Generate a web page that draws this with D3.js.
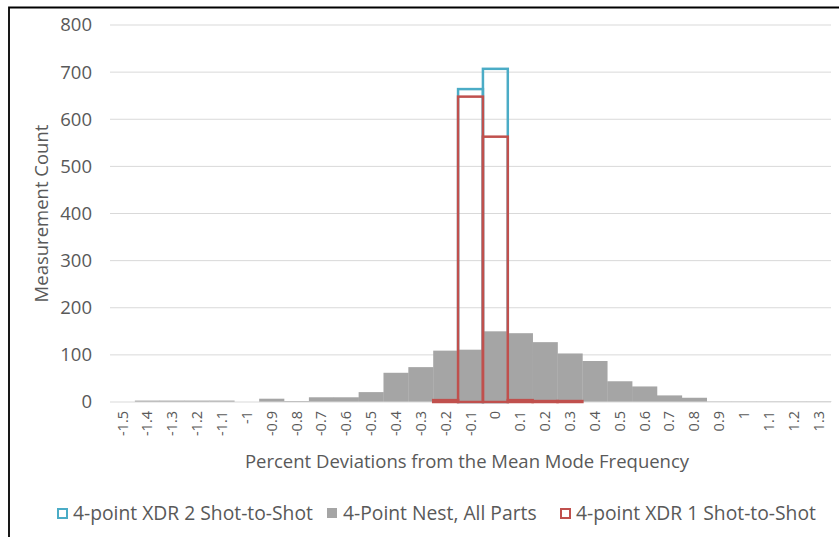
<!DOCTYPE html>
<html>
<head>
<meta charset="utf-8">
<script src="https://cdn.jsdelivr.net/npm/d3@7/dist/d3.min.js"></script>
<style>
  html, body { margin: 0; padding: 0; background: #fff; }
  svg { display: block; font-family: "Open Sans", Lato, sans-serif; }
</style>
</head>
<body>
<svg id="chart" width="839" height="537"></svg>
<script>
// Histogram bins (percent deviation from the mean mode frequency)
const categories = ["-1.5","-1.4","-1.3","-1.2","-1.1","-1","-0.9","-0.8","-0.7","-0.6",
  "-0.5","-0.4","-0.3","-0.2","-0.1","0","0.1","0.2","0.3","0.4","0.5","0.6","0.7",
  "0.8","0.9","1","1.1","1.2","1.3"];

// Measurement counts per bin
const xdr2Counts = [0,0,0,0,0,0,0,0,0,0,0,0,0,0,664,707,0,0,0,0,0,0,0,0,0,0,0,0,0];
const nestCounts = [0,3,3,3,3,0,7,2,10,10,21,62,74,109,111,150,146,127,103,87,44,33,14,9,1,1,1,1,1];
const xdr1Counts = [0,0,0,0,0,0,0,0,0,0,0,0,0,4,648,563,4,2,2,0,0,0,0,0,0,0,0,0,0];

const yTicks = [0,100,200,300,400,500,600,700,800];

const seriesNames = ["4-point XDR 2 Shot-to-Shot","4-Point Nest, All Parts","4-point XDR 1 Shot-to-Shot"];

const textColor = "#595959";
const labelSize = 18.5;
const legendSize = 19.3;
const svg = d3.select("#chart");
const margin = { left: 110, right: 831, top: 25, bottom: 402 };

const x = d3.scaleBand().domain(categories).range([margin.left, margin.right]).padding(0);
const y = d3.scaleLinear().domain([0, 800]).range([margin.bottom, margin.top]);

// Outer frame (top and left edges)
svg.append("path")
  .attr("d", "M9,537 L9,7.5 L839,7.5")
  .attr("fill", "none").attr("stroke", "#000").attr("stroke-width", 1.8);

// Horizontal gridlines
svg.append("g").selectAll("line").data(yTicks.filter(d => d > 0)).join("line")
  .attr("x1", margin.left).attr("x2", margin.right)
  .attr("y1", d => y(d)).attr("y2", d => y(d))
  .attr("stroke", "#d9d9d9").attr("stroke-width", 1);

// Y axis labels
const yAxis = d3.axisLeft(y).tickValues(yTicks).tickSize(0).tickPadding(0);
const gy = svg.append("g").attr("transform", `translate(92,0)`).call(yAxis);
gy.select(".domain").remove();
gy.selectAll("text").attr("font-size", labelSize).attr("fill", textColor)
  .attr("font-family", "'Open Sans', Lato, sans-serif");

// Series 1: outline bars (XDR 2)
svg.append("g").selectAll("rect").data(categories.map((c, i) => ({ c, v: xdr2Counts[i] })).filter(d => d.v > 0)).join("rect")
  .attr("x", d => x(d.c)).attr("width", x.bandwidth())
  .attr("y", d => y(d.v)).attr("height", d => y(0) - y(d.v))
  .attr("fill", "none").attr("stroke", "#4bacc6").attr("stroke-width", 2.5);

// Series 2: filled bars (Nest, all parts)
svg.append("g").selectAll("rect").data(categories.map((c, i) => ({ c, v: nestCounts[i] })).filter(d => d.v > 0)).join("rect")
  .attr("x", d => x(d.c)).attr("width", x.bandwidth() + 0.3)
  .attr("y", d => y(d.v)).attr("height", d => y(0) - y(d.v))
  .attr("fill", "#a5a5a5");

// Horizontal axis line
svg.append("line")
  .attr("x1", margin.left).attr("x2", margin.right)
  .attr("y1", y(0)).attr("y2", y(0))
  .attr("stroke", "#d9d9d9").attr("stroke-width", 1);

// Series 3: outline bars (XDR 1)
svg.append("g").selectAll("rect").data(categories.map((c, i) => ({ c, v: xdr1Counts[i] })).filter(d => d.v > 0)).join("rect")
  .attr("x", d => x(d.c)).attr("width", x.bandwidth())
  .attr("y", d => y(d.v)).attr("height", d => y(0) - y(d.v))
  .attr("fill", "none").attr("stroke", "#c0504d").attr("stroke-width", 2.5);

// X axis labels (rotated)
const xAxis = d3.axisBottom(x).tickSize(0).tickPadding(0);
const gx = svg.append("g").attr("transform", `translate(0,${y(0)})`).call(xAxis);
gx.select(".domain").remove();
gx.selectAll("text")
  .attr("font-size", 14.5).attr("fill", textColor)
  .attr("font-family", "'Open Sans', Lato, sans-serif")
  .attr("transform", "rotate(-90)")
  .attr("text-anchor", "end")
  .attr("x", -9).attr("y", 0).attr("dy", "0.35em");

// Axis titles
svg.append("text")
  .attr("transform", `translate(48,${(margin.top + margin.bottom) / 2}) rotate(-90)`)
  .attr("text-anchor", "middle")
  .attr("font-size", labelSize).attr("fill", textColor)
  .text("Measurement Count");

svg.append("text")
  .attr("x", 467).attr("y", 468)
  .attr("text-anchor", "middle")
  .attr("font-size", labelSize).attr("fill", textColor)
  .text("Percent Deviations from the Mean Mode Frequency");

// Legend
const legendItems = [
  { name: seriesNames[0], x: 57, kind: "outline", color: "#4bacc6" },
  { name: seriesNames[1], x: 327, kind: "fill", color: "#a5a5a5" },
  { name: seriesNames[2], x: 560, kind: "outline", color: "#c0504d" }
];
const lg = svg.append("g").selectAll("g").data(legendItems).join("g")
  .attr("transform", d => `translate(${d.x},508)`);
lg.append("rect")
  .attr("x", d => d.kind === "outline" ? 1 : 0).attr("y", d => d.kind === "outline" ? 1 : 0)
  .attr("width", d => d.kind === "outline" ? 9 : 10).attr("height", d => d.kind === "outline" ? 9 : 10)
  .attr("fill", d => d.kind === "outline" ? "none" : d.color)
  .attr("stroke", d => d.kind === "outline" ? d.color : "none")
  .attr("stroke-width", 2);
lg.append("text")
  .attr("x", 16).attr("y", 11.8)
  .attr("font-size", legendSize).attr("fill", textColor)
  .text(d => d.name);
</script>
</body>
</html>
